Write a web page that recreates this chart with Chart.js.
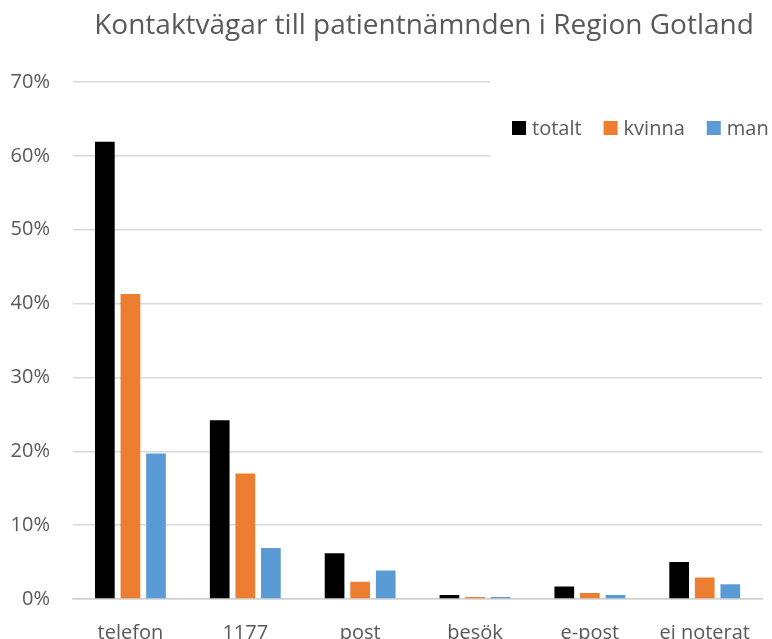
<!DOCTYPE html>
<html>
<head>
<meta charset="utf-8">
<script src="https://cdn.jsdelivr.net/npm/chart.js@4"></script>
<style>
  html, body { margin: 0; padding: 0; background: #fff; }
  #wrap { width: 772px; height: 639px; }
</style>
</head>
<body>
<div id="wrap"><canvas id="chart" width="772" height="639"></canvas></div>
<script>
// Kontaktvägar (andel i procent)
const categories = ['telefon', '1177', 'post', 'besök', 'e-post', 'ej noterat'];
const totalt = [61.9, 24.2, 6.2, 0.55, 1.7, 5.0];
const kvinna = [41.3, 17.0, 2.35, 0.27, 0.8, 2.9];
const man = [19.7, 6.9, 3.85, 0.27, 0.55, 2.0];
const yTicks = [0, 10, 20, 30, 40, 50, 60, 70];

const titleText = 'Kontaktvägar till patientnämnden i Region Gotland';
const textColor = '#595959';
const fontFamily = '"Open Sans", "Noto Sans", sans-serif';

// title + legend drawn on top (legend covers the gridlines like in Excel)
const overlay = {
    id: 'overlay',
    afterDraw(chart) {
        const ctx = chart.ctx;
        ctx.save();
        ctx.fillStyle = textColor;
        ctx.font = '28px ' + fontFamily;
        ctx.textAlign = 'center';
        ctx.textBaseline = 'alphabetic';
        ctx.fillText(titleText, 424, 34);

        // legend
        ctx.fillStyle = '#fff';
        ctx.fillRect(490, 72, 282, 94);
        ctx.font = '20px ' + fontFamily;
        ctx.textAlign = 'left';
        let x = 512;
        chart.data.datasets.forEach(ds => {
            ctx.fillStyle = ds.backgroundColor;
            ctx.fillRect(x, 121, 14, 14);
            ctx.fillStyle = textColor;
            ctx.fillText(ds.label, x + 20, 135);
            x += 20 + ctx.measureText(ds.label).width + 22;
        });
        ctx.restore();
    }
};

new Chart(document.getElementById('chart'), {
    type: 'bar',
    data: {
        labels: categories,
        datasets: [
            { label: 'totalt', data: totalt, backgroundColor: '#000000' },
            { label: 'kvinna', data: kvinna, backgroundColor: '#ED7D31' },
            { label: 'man', data: man, backgroundColor: '#5B9BD5' }
        ]
    },
    options: {
        responsive: false,
        animation: false,
        layout: { padding: { top: 82, left: 0, right: 0, bottom: 0 } },
        datasets: { bar: { categoryPercentage: 0.668, barPercentage: 0.77 } },
        plugins: { legend: { display: false }, title: { display: false }, tooltip: { enabled: false } },
        scales: {
            x: {
                grid: { display: false, drawTicks: false },
                border: { display: true, color: '#d0d0d0', width: 1.5 },
                ticks: { color: textColor, font: { family: fontFamily, size: 20 }, padding: 22, maxRotation: 0 },
                afterFit(scale) { scale.height = 40; }
            },
            y: {
                min: 0,
                max: 70,
                afterBuildTicks(scale) { scale.ticks = yTicks.map(v => ({ value: v })); },
                grid: { color: '#d9d9d9', lineWidth: 1.5, drawTicks: false },
                border: { display: false },
                ticks: { color: textColor, font: { family: fontFamily, size: 20 }, padding: 23, callback: v => v + '%' },
                afterFit(scale) { scale.width = 73; }
            }
        }
    },
    plugins: [overlay]
});
</script>
</body>
</html>
